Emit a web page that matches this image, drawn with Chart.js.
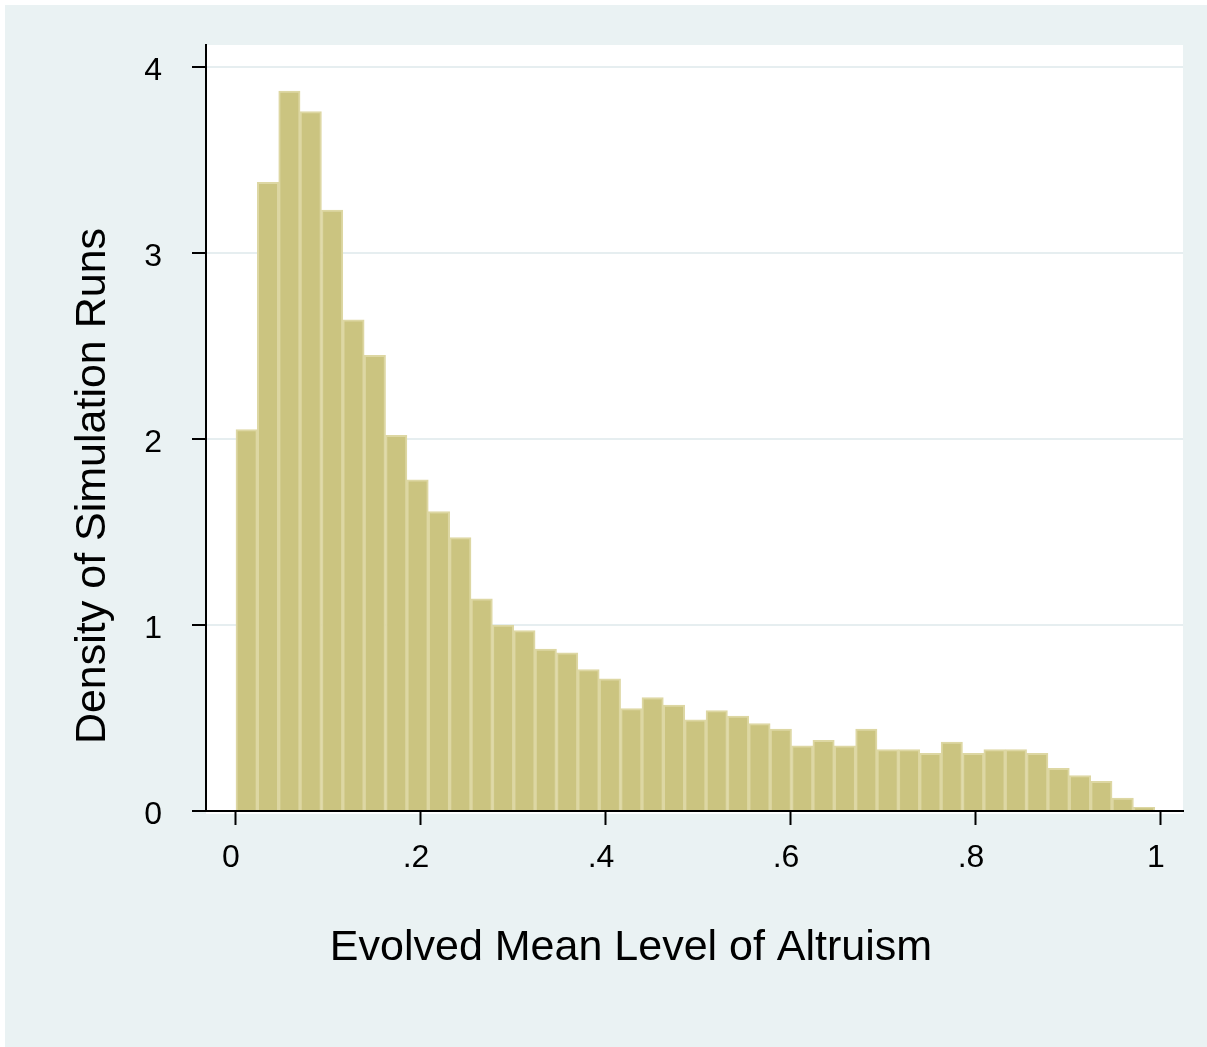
<!DOCTYPE html>
<html lang="en">
<head>
    <meta charset="UTF-8">
    <title>Evolved Mean Level of Altruism</title>
    <style>
        html, body { margin: 0; padding: 0; background: #ffffff; }
        #wrap { position: absolute; left: 0; top: 0; width: 1207px; height: 1047px; }
    </style>
</head>
<body>
    <div id="wrap">
        <canvas id="histChart" width="1207" height="1047"></canvas>
    </div>

    <script src="https://cdn.jsdelivr.net/npm/chart.js@4.4.1/dist/chart.umd.min.js"></script>

    <script>
        // histogram bins (density of simulation runs)
        var binStart = 0;
        var binWidth = 0.0231;
        var density = [
            2.05, 3.38, 3.87, 3.76, 3.23, 2.64, 2.45, 2.02, 1.78, 1.61,
            1.47, 1.14, 1.00, 0.97, 0.87, 0.85, 0.76, 0.71, 0.55, 0.61,
            0.57, 0.49, 0.54, 0.51, 0.47, 0.44, 0.35, 0.38, 0.35, 0.44,
            0.33, 0.33, 0.31, 0.37, 0.31, 0.33, 0.33, 0.31, 0.23, 0.19,
            0.16, 0.07, 0.02
        ];

        // axis ticks
        var xTickValues = [0, 0.2, 0.4, 0.6, 0.8, 1];
        var xTickLabels = ['0', '.2', '.4', '.6', '.8', '1'];
        var yTickValues = [0, 1, 2, 3, 4];
        var yTickLabels = ['0', '1', '2', '3', '4'];

        var xTitle = 'Evolved Mean Level of Altruism';
        var yTitle = 'Density of Simulation Runs';

        var FONT = '"Liberation Sans", Arial, Helvetica, sans-serif';
        var BG = '#eaf2f3';

        var points = density.map(function (d, i) {
            return { x: binStart + binWidth * (i + 0.5), y: d };
        });

        // Stata-like frame: light outer region, white plot region, titles
        var frame = {
            id: 'frame',
            beforeDraw: function (chart) {
                var ctx = chart.ctx;
                var a = chart.chartArea;
                ctx.save();
                ctx.fillStyle = '#ffffff';
                ctx.fillRect(0, 0, chart.width, chart.height);
                ctx.fillStyle = BG;
                ctx.fillRect(5, 5, chart.width - 5, chart.height - 5);
                ctx.fillStyle = '#ffffff';
                ctx.fillRect(a.left, a.top, a.right - a.left, a.bottom - a.top + 3);
                ctx.restore();
            },
            afterDraw: function (chart) {
                var ctx = chart.ctx;
                ctx.save();
                ctx.fillStyle = '#000000';
                ctx.font = '43px ' + FONT;
                ctx.textAlign = 'center';
                ctx.textBaseline = 'alphabetic';
                ctx.fillText(xTitle, 631, 960);
                ctx.translate(105, 486);
                ctx.rotate(-Math.PI / 2);
                ctx.fillText(yTitle, 0, 0);
                ctx.restore();
            }
        };

        // keep the tick label padding from pushing the plot area around
        function noEdgePadding(s) {
            s.paddingTop = 0;
            s.paddingBottom = 0;
            s.paddingLeft = 0;
            s.paddingRight = 0;
        }

        new Chart(document.getElementById('histChart'), {
            type: 'bar',
            data: {
                datasets: [{
                    data: points,
                    backgroundColor: '#cbc480',
                    borderColor: '#ddd7a3',
                    borderWidth: 2,
                    barPercentage: 1,
                    categoryPercentage: 1
                }]
            },
            options: {
                responsive: false,
                animation: false,
                events: [],
                layout: { padding: { left: 0, right: 24, top: 45, bottom: 0 } },
                plugins: {
                    legend: { display: false },
                    tooltip: { enabled: false }
                },
                scales: {
                    x: {
                        type: 'linear',
                        offset: false,
                        min: -0.0324,
                        max: 1.0238,
                        afterFit: function (s) { s.height = 236; noEdgePadding(s); },
                        afterBuildTicks: function (s) {
                            s.ticks = xTickValues.map(function (v) { return { value: v }; });
                        },
                        grid: {
                            offset: false,
                            drawOnChartArea: false,
                            tickLength: 14,
                            tickColor: '#000000',
                            tickWidth: 2
                        },
                        border: { color: '#000000', width: 2 },
                        ticks: {
                            color: '#000000',
                            font: { family: FONT, size: 32 },
                            padding: 14,
                            labelOffset: -5,
                            maxRotation: 0,
                            callback: function (v) {
                                var i = xTickValues.indexOf(v);
                                return i >= 0 ? xTickLabels[i] : '';
                            }
                        }
                    },
                    y: {
                        min: 0,
                        max: 4.118,
                        afterFit: function (s) { s.width = 206; noEdgePadding(s); },
                        afterBuildTicks: function (s) {
                            s.ticks = yTickValues.map(function (v) { return { value: v }; });
                        },
                        grid: {
                            color: '#e6eef0',
                            lineWidth: 2,
                            tickLength: 14,
                            tickColor: '#000000',
                            tickWidth: 2
                        },
                        border: { color: '#000000', width: 2 },
                        ticks: {
                            color: '#000000',
                            font: { family: FONT, size: 32 },
                            padding: 30,
                            labelOffset: 4,
                            callback: function (v) {
                                var i = yTickValues.indexOf(v);
                                return i >= 0 ? yTickLabels[i] : '';
                            }
                        }
                    }
                }
            },
            plugins: [frame]
        });
    </script>
</body>
</html>
